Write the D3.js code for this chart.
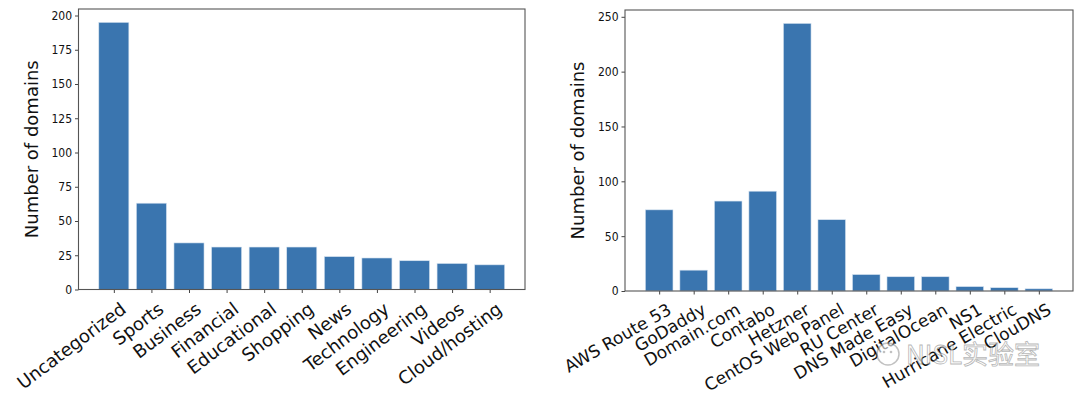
<!DOCTYPE html>
<html>
<head>
<meta charset="utf-8">
<script src="https://cdn.jsdelivr.net/npm/d3@7"></script>
<style>
  body { margin: 0; background: #fff; }
  svg text { font-family: "DejaVu Sans", sans-serif; }
  .tick text.ytick { font-family: "Liberation Sans Narrow", "DejaVu Sans Condensed", sans-serif; }
</style>
</head>
<body>
<svg id="chart" width="1080" height="397"></svg>
<script>
// categories chart (left)
const categories = ["Uncategorized", "Sports", "Business", "Financial", "Educational", "Shopping",
                    "News", "Technology", "Engineering", "Videos", "Cloud/hosting"];
const categoryCounts = [195, 63, 34, 31, 31, 31, 24, 23, 21, 19, 18];
const categoryTicks = [0, 25, 50, 75, 100, 125, 150, 175, 200];

// DNS providers chart (right)
const providers = ["AWS Route 53", "GoDaddy", "Domain.com", "Contabo", "Hetzner", "CentOS Web Panel",
                   "RU Center", "DNS Made Easy", "DigitalOcean", "NS1", "Hurricane Electric", "ClouDNS"];
const providerCounts = [74, 19, 82, 91, 244, 65, 15, 13, 13, 4, 3, 2];
const providerTicks = [0, 50, 100, 150, 200, 250];

const barColor = "#3a75af";
const svg = d3.select("#chart");

function drawPanel(box, names, values, ticks, angle, labelSize) {
  const n = names.length;
  // matplotlib style margins: bars of width 0.8, 5% padding each side
  const span = (n - 1) + 0.8;
  const x = d3.scaleLinear()
    .domain([-0.4 - 0.05 * span, n - 1 + 0.4 + 0.05 * span])
    .range([box.left, box.right]);
  const y = d3.scaleLinear()
    .domain([0, d3.max(values) * 1.05])
    .range([box.bottom, box.top]);

  const g = svg.append("g");

  g.selectAll("rect.bar")
    .data(values)
    .enter().append("rect")
      .attr("class", "bar")
      .attr("x", (d, i) => x(i - 0.4))
      .attr("width", (d, i) => x(i + 0.4) - x(i - 0.4))
      .attr("y", d => y(d))
      .attr("height", d => y(0) - y(d))
      .attr("fill", barColor)
      .attr("stroke", "#d6e3f0")
      .attr("stroke-width", 0.6);

  // y axis
  const yAxis = g.append("g")
    .attr("transform", `translate(${box.left},0)`)
    .call(d3.axisLeft(y).tickValues(ticks).tickSize(3.5).tickPadding(3));
  yAxis.select(".domain").remove();
  yAxis.selectAll(".tick line").attr("stroke", "#444");
  yAxis.selectAll(".tick text")
    .attr("class", "ytick")
    .attr("fill", "#111")
    .style("font-size", "12px");

  // x axis, rotated labels
  const xAxis = g.append("g")
    .attr("transform", `translate(0,${box.bottom})`)
    .call(d3.axisBottom(x).tickValues(d3.range(n)).tickFormat(i => names[i]).tickSize(3.5));
  xAxis.select(".domain").remove();
  xAxis.selectAll(".tick line").attr("stroke", "#444");
  xAxis.selectAll(".tick text")
    .attr("fill", "#111")
    .style("font-size", labelSize + "px")
    .attr("text-anchor", "end")
    .attr("x", 0)
    .attr("y", 0)
    .attr("dy", 0)
    .attr("transform", `translate(13,22) rotate(${-angle})`);

  // frame
  g.append("rect")
    .attr("x", box.left)
    .attr("y", box.top)
    .attr("width", box.right - box.left)
    .attr("height", box.bottom - box.top)
    .attr("fill", "none")
    .attr("stroke", "#555")
    .attr("stroke-width", 1.1);

  // y label
  g.append("text")
    .attr("transform", `translate(${box.left - 41},${(box.top + box.bottom) / 2}) rotate(-90)`)
    .attr("text-anchor", "middle")
    .attr("fill", "#111")
    .style("font-size", "18px")
    .text("Number of domains");
}

drawPanel({ left: 78.5, right: 525, top: 9, bottom: 289.5 }, categories, categoryCounts, categoryTicks, 37, 18);
drawPanel({ left: 625, right: 1073, top: 10, bottom: 291 }, providers, providerCounts, providerTicks, 30, 17);

// watermark
const wm = svg.append("g").attr("opacity", 0.6);
wm.append("circle").attr("cx", 888).attr("cy", 354).attr("r", 11)
  .attr("fill", "#fff").attr("stroke", "#999").attr("stroke-width", 1.5);
wm.append("circle").attr("cx", 884).attr("cy", 352).attr("r", 1.3).attr("fill", "#999");
wm.append("circle").attr("cx", 891).attr("cy", 352).attr("r", 1.3).attr("fill", "#999");
wm.append("text")
  .attr("x", 906).attr("y", 364)
  .attr("fill", "#fff").attr("stroke", "#888").attr("stroke-width", 0.8)
  .style("font-family", "'Noto Sans CJK SC', sans-serif")
  .style("font-size", "26px")
  .text("NISL实验室");
</script>
</body>
</html>
